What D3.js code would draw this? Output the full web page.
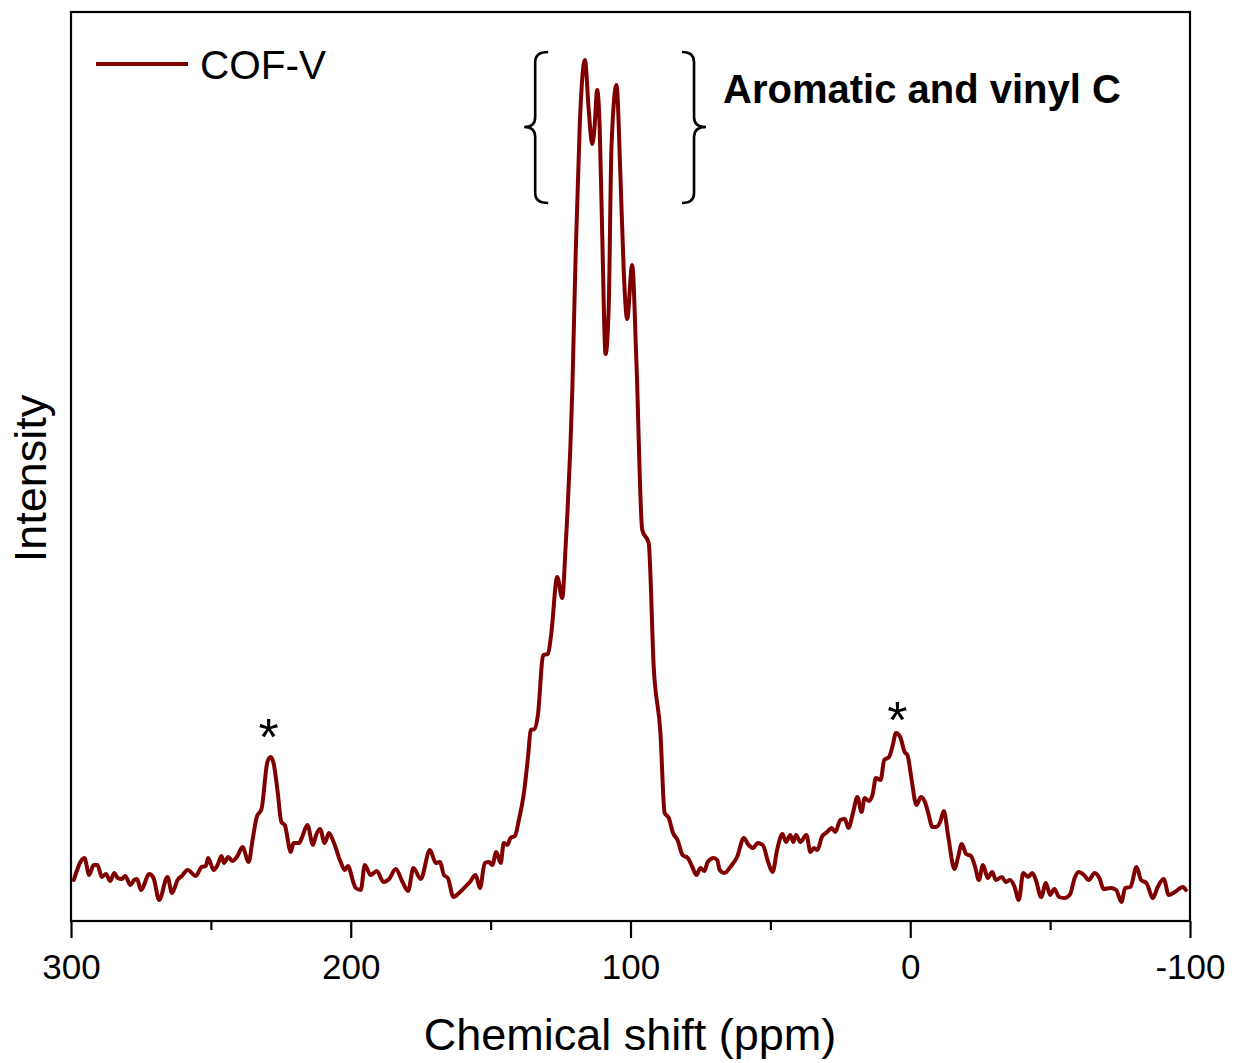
<!DOCTYPE html>
<html>
<head>
<meta charset="utf-8">
<script src="https://cdn.jsdelivr.net/npm/d3@7"></script>
<style>
  html, body { margin: 0; padding: 0; background: #fff; }
  svg { display: block; font-family: "Liberation Sans", Arial, Helvetica, sans-serif; }
</style>
</head>
<body>
<svg id="chart" width="1234" height="1063"></svg>
<script>
// ---- data (chemical shift in ppm, intensity in arbitrary units) ----
const ppmValues = [
  299.0, 295.2, 293.5, 291.9, 290.5, 289.0, 287.5, 286.0, 284.5, 283.3, 281.9, 280.6, 278.8, 277.4, 276.4, 275.0,
  272.0, 270.5, 268.5, 265.5, 263.9, 261.9, 260.4, 258.3, 255.4, 253.3, 251.8, 251.0, 249.0, 247.6, 246.2, 245.3,
  243.8, 242.3, 240.5, 238.7, 236.5, 235.1, 233.6, 231.9, 229.8, 228.6, 227.6, 226.2, 224.8, 223.6, 221.4, 220.5,
  218.5, 217.5, 215.5, 213.5, 212.5, 211.0, 209.3, 207.8, 206.0, 203.6, 202.1, 201.0, 199.0, 198.2, 196.4, 195.0,
  192.9, 190.7, 188.3, 186.3, 183.9, 181.5, 179.5, 177.6, 175.0, 171.7, 169.6, 168.1, 166.7, 165.3, 163.3, 161.3,
  159.5, 157.4, 155.4, 153.8, 152.1, 150.6, 149.4, 148.0, 146.4, 145.3, 144.0, 142.9, 141.3, 139.9, 138.1, 136.5,
  135.7, 134.3, 133.1, 131.2, 129.5, 128.3, 126.2, 124.4, 123.2, 120.8, 119.6, 118.1, 116.3, 114.9, 113.7, 112.9,
  111.9, 111.0, 110.1, 108.9, 107.8, 106.8, 105.0, 103.6, 102.4, 101.2, 99.4, 97.9, 95.8, 93.5, 91.7, 89.3,
  87.8, 86.3, 84.8, 83.2, 81.4, 79.5, 77.9, 76.4, 75.0, 73.6, 72.4, 70.3, 69.0, 68.1, 66.4, 64.3,
  61.9, 59.5, 57.8, 56.1, 54.6, 52.7, 50.8, 49.2, 47.6, 45.7, 44.4, 42.9, 41.8, 40.8, 39.3, 37.1,
  35.7, 34.4, 33.2, 31.6, 29.7, 28.1, 26.8, 25.0, 23.4, 22.1, 20.4, 18.9, 17.4, 16.3, 14.8, 13.5,
  12.3, 10.6, 9.3, 7.6, 6.4, 5.1, 3.6, 2.0, 1.0, -0.5, -2.2, -3.8, -5.4, -6.6, -7.9, -9.2,
  -10.7, -12.0, -13.6, -15.8, -17.1, -18.4, -20.0, -21.7, -23.2, -24.5, -26.0, -27.7, -29.3, -30.6, -32.8, -34.1,
  -35.7, -37.3, -38.8, -40.4, -42.1, -43.6, -44.9, -46.8, -48.5, -50.0, -51.5, -53.2, -55.1, -57.0, -58.9, -60.2,
  -62.1, -63.8, -65.9, -67.6, -69.1, -71.7, -73.6, -75.5, -76.8, -78.7, -80.9, -82.5, -84.4, -86.8, -88.3, -90.6,
  -92.4, -94.6, -97.5, -98.5
];
const intensityValues = [
  4.1, 6.3, 4.6, 5.6, 5.6, 4.4, 4.7, 4.0, 4.8, 4.3, 4.2, 4.5, 3.6, 4.1, 4.2, 3.1,
  4.7, 4.3, 2.1, 4.4, 2.8, 4.1, 4.5, 5.1, 4.5, 5.4, 5.5, 6.3, 5.1, 5.6, 6.5, 5.8,
  6.4, 6.0, 6.5, 7.4, 5.9, 8.1, 10.4, 11.2, 15.9, 16.4, 15.8, 13.1, 9.9, 9.6, 6.9, 7.8,
  7.8, 8.3, 9.6, 7.6, 8.5, 9.2, 7.8, 8.8, 7.8, 5.9, 5.1, 5.5, 3.8, 3.3, 3.1, 5.6,
  4.6, 5.0, 3.9, 4.2, 5.2, 3.9, 3.0, 5.3, 4.2, 7.1, 5.8, 5.9, 4.6, 4.3, 2.4, 2.8,
  3.3, 3.9, 4.6, 3.3, 5.8, 5.9, 5.6, 6.9, 5.8, 7.8, 7.6, 8.3, 8.5, 10.1, 12.8, 16.8,
  19.1, 19.2, 20.6, 26.6, 26.7, 28.8, 34.4, 32.3, 37.4, 53.1, 66.7, 79.9, 86.1, 81.0, 77.7, 79.2,
  83.1, 79.2, 68.5, 56.7, 61.3, 77.4, 83.6, 74.5, 64.9, 60.2, 65.6, 56.0, 39.1, 37.8, 25.4, 18.8,
  10.8, 10.3, 8.8, 8.1, 6.6, 6.3, 5.4, 4.6, 5.3, 5.0, 5.9, 6.3, 6.1, 5.1, 4.8, 5.4,
  6.4, 8.3, 7.6, 7.3, 7.8, 7.6, 5.9, 4.9, 7.1, 8.7, 7.9, 8.6, 7.9, 8.6, 7.9, 8.6,
  6.9, 7.3, 7.1, 8.4, 8.9, 9.3, 8.9, 10.1, 10.2, 9.3, 10.9, 12.4, 10.9, 12.3, 12.0, 12.6,
  14.3, 14.1, 16.1, 16.4, 17.4, 18.8, 18.4, 16.9, 16.6, 14.1, 11.6, 12.4, 11.8, 10.6, 9.4, 9.4,
  9.9, 11.0, 8.4, 5.2, 6.4, 7.7, 6.7, 6.5, 5.4, 4.1, 5.6, 4.3, 4.9, 4.1, 4.4, 3.9,
  4.1, 3.4, 2.1, 4.8, 4.4, 4.8, 4.1, 2.4, 3.8, 2.6, 3.2, 2.4, 2.3, 2.6, 4.4, 4.9,
  4.6, 4.1, 4.8, 4.3, 3.2, 3.3, 3.1, 1.9, 3.3, 3.4, 5.4, 4.1, 3.8, 2.3, 3.3, 4.2,
  2.6, 2.9, 3.4, 3.1
];
const seriesName = "COF-V";
const xDomain = [300, -100];
const yDomain = [0, 90.9];
const majorTicks = [300, 200, 100, 0, -100];
const majorTickLabels = ["300", "200", "100", "0", "-100"];
const minorTicks = [250, 150, 50, -50];
const xTitle = "Chemical shift (ppm)";
const yTitle = "Intensity";
const bandLabel = "Aromatic and vinyl C";
const bandRange = [138, 73];       // ppm span marked by the braces
const asteriskPpm = [229.4, 4.6];   // spinning side bands
const asteriskLevel = [20.3, 22.0];

// ---- layout ----
const svg = d3.select("#chart");
const m = { left: 71, right: 1190, top: 12, bottom: 921 };
const color = "#800000";

const x = d3.scaleLinear().domain(xDomain).range([m.left, m.right]);
const y = d3.scaleLinear().domain(yDomain).range([m.bottom, m.top]);

const data = ppmValues.map((p, i) => ({ p, v: intensityValues[i] }));

// line
const line = d3.line().x(d => x(d.p)).y(d => y(d.v)).curve(d3.curveMonotoneX);
svg.append("path")
  .datum(data)
  .attr("d", line)
  .attr("fill", "none")
  .attr("stroke", color)
  .attr("stroke-width", 4)
  .attr("stroke-linejoin", "round")
  .attr("stroke-linecap", "round");

// frame
svg.append("rect")
  .attr("x", m.left).attr("y", m.top)
  .attr("width", m.right - m.left).attr("height", m.bottom - m.top)
  .attr("fill", "none").attr("stroke", "#000").attr("stroke-width", 2.2);

// bottom axis - major
const axMajor = svg.append("g")
  .attr("transform", `translate(0,${m.bottom})`)
  .call(d3.axisBottom(x).tickValues(majorTicks).tickSize(17).tickPadding(16)
    .tickFormat((d, i) => majorTickLabels[i]));
axMajor.select(".domain").remove();
axMajor.selectAll(".tick line").attr("stroke", "#000").attr("stroke-width", 2.2);
axMajor.selectAll(".tick text")
  .attr("fill", "#000")
  .style("font-size", "35px")
  .style("font-family", "'Liberation Sans', Arial, sans-serif");

// bottom axis - minor
const axMinor = svg.append("g")
  .attr("transform", `translate(0,${m.bottom})`)
  .call(d3.axisBottom(x).tickValues(minorTicks).tickSize(9).tickFormat(""));
axMinor.select(".domain").remove();
axMinor.selectAll(".tick line").attr("stroke", "#000").attr("stroke-width", 2.2);

// axis titles
svg.append("text")
  .attr("x", (m.left + m.right) / 2 - 0.5).attr("y", 1050)
  .attr("text-anchor", "middle")
  .style("font-size", "45px")
  .text(xTitle);

svg.append("text")
  .attr("transform", `translate(46,${(m.top + m.bottom) / 2 + 12}) rotate(-90)`)
  .attr("text-anchor", "middle")
  .style("font-size", "45px")
  .text(yTitle);

// legend
svg.append("line")
  .attr("x1", 96).attr("x2", 188).attr("y1", 64).attr("y2", 64)
  .attr("stroke", color).attr("stroke-width", 4);
svg.append("text")
  .attr("x", 200).attr("y", 79)
  .style("font-size", "40.5px")
  .text(seriesName);

// braces
function brace(xTip, xStem, xPoint, yTop, yMid, yBot) {
  const r = 10;
  return `M${xTip},${yTop}` +
    `Q${xStem},${yTop} ${xStem},${yTop + r}` +
    `L${xStem},${yMid - r}` +
    `Q${xStem},${yMid} ${xPoint},${yMid}` +
    `Q${xStem},${yMid} ${xStem},${yMid + r}` +
    `L${xStem},${yBot - r}` +
    `Q${xStem},${yBot} ${xTip},${yBot}`;
}
const bl = x(bandRange[0]), br = x(bandRange[1]);
svg.append("path")
  .attr("d", brace(bl + 24, bl + 11, bl, 52, 127, 203))
  .attr("fill", "none").attr("stroke", "#000").attr("stroke-width", 2.6);
svg.append("path")
  .attr("d", brace(br - 24, br - 12, br, 52, 127, 203))
  .attr("fill", "none").attr("stroke", "#000").attr("stroke-width", 2.6);

svg.append("text")
  .attr("x", 723).attr("y", 103)
  .style("font-size", "40px")
  .style("font-weight", "bold")
  .text(bandLabel);

// asterisks
asteriskPpm.forEach((p, i) => {
  svg.append("text")
    .attr("x", x(p)).attr("y", y(asteriskLevel[i]) + 37)
    .attr("text-anchor", "middle")
    .style("font-size", "52px")
    .text("*");
});
</script>
</body>
</html>
